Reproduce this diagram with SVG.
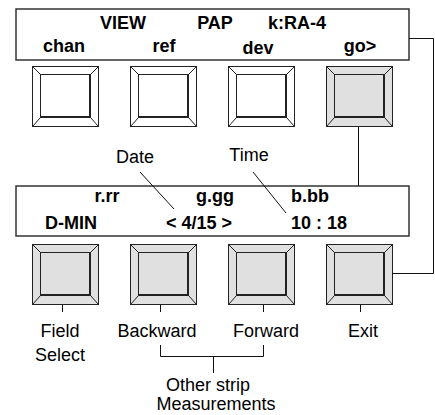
<svg xmlns="http://www.w3.org/2000/svg" width="435" height="415" viewBox="0 0 435 415">
<style>
.b{font-family:"Liberation Sans",Arial,sans-serif;font-weight:bold;font-size:18px;text-anchor:middle;fill:#000}
.r{font-family:"Liberation Sans",Arial,sans-serif;font-size:18px;text-anchor:middle;fill:#000}
.disp{fill:#fff;stroke:#333;stroke-width:1.5}
.w{fill:#fff}
.g{fill:#e0e0e0}
.ln{stroke:#111;stroke-width:1;fill:none}
</style>
<defs>
<g id="bev" stroke="#222" stroke-width="1">
<rect x="0.5" y="0.5" width="66" height="60"/>
<rect x="8.5" y="8.5" width="50" height="43"/>
<path d="M0.5 0.5L8.5 8.5M66.5 0.5L58.5 8.5M0.5 60.5L8.5 51.5M66.5 60.5L58.5 51.5M9 50.5H58M57.5 9V51" fill="none"/>
</g>
</defs>
<g id="top-display">
<rect class="disp" x="16" y="9" width="393" height="51"/>
<text class="b" x="123" y="29">VIEW</text>
<text class="b" x="215" y="29">PAP</text>
<text class="b" x="297" y="29">k:RA-4</text>
<text class="b" x="64" y="52">chan</text>
<text class="b" x="164" y="52">ref</text>
<text class="b" x="258" y="54">dev</text>
<text class="b" x="360" y="52">go&gt;</text>
</g>
<g id="btn-chan"><use href="#bev" class="w" x="32" y="66"/></g>
<g id="btn-ref"><use href="#bev" class="w" x="130" y="66"/></g>
<g id="btn-dev"><use href="#bev" class="w" x="228" y="66"/></g>
<g id="btn-go"><use href="#bev" class="g" x="326" y="66"/></g>
<g id="bottom-display">
<rect class="disp" x="16" y="186" width="393" height="50"/>
<text class="b" x="107" y="202">r.rr</text>
<text class="b" x="215" y="202">g.gg</text>
<text class="b" x="310" y="202">b.bb</text>
<text class="b" x="71" y="229">D-MIN</text>
<text class="b" x="199" y="229">&lt; 4/15 &gt;</text>
<text class="b" x="319" y="229">10 : 18</text>
</g>
<g id="btn-field"><use href="#bev" class="g" x="32" y="244"/></g>
<g id="btn-backward"><use href="#bev" class="g" x="130" y="244"/></g>
<g id="btn-forward"><use href="#bev" class="g" x="228" y="244"/></g>
<g id="btn-exit"><use href="#bev" class="g" x="326" y="244"/></g>
<g id="labels">
<text class="r" x="135" y="163">Date</text>
<text class="r" x="249" y="161">Time</text>
<text class="r" x="60" y="337">Field</text>
<text class="r" x="60" y="361">Select</text>
<text class="r" x="157" y="337">Backward</text>
<text class="r" x="266" y="337">Forward</text>
<text class="r" x="363" y="337">Exit</text>
<text class="r" x="208" y="391">Other strip</text>
<text class="r" x="216" y="410">Measurements</text>
</g>
<g id="connectors" class="ln">
<path d="M358.5 127V186"/>
<path d="M409 38.5H433.5V273.5H392"/>
<path d="M140 172L174 209"/>
<path d="M253 172L286 213"/>
<path d="M62.5 305V312"/>
<path d="M160.5 305V312"/>
<path d="M263.5 305V312"/>
<path d="M360.5 305V312"/>
<path d="M160.5 345V356.5H263.5V345"/>
<path d="M213.5 356.5V373"/>
</g>
</svg>
